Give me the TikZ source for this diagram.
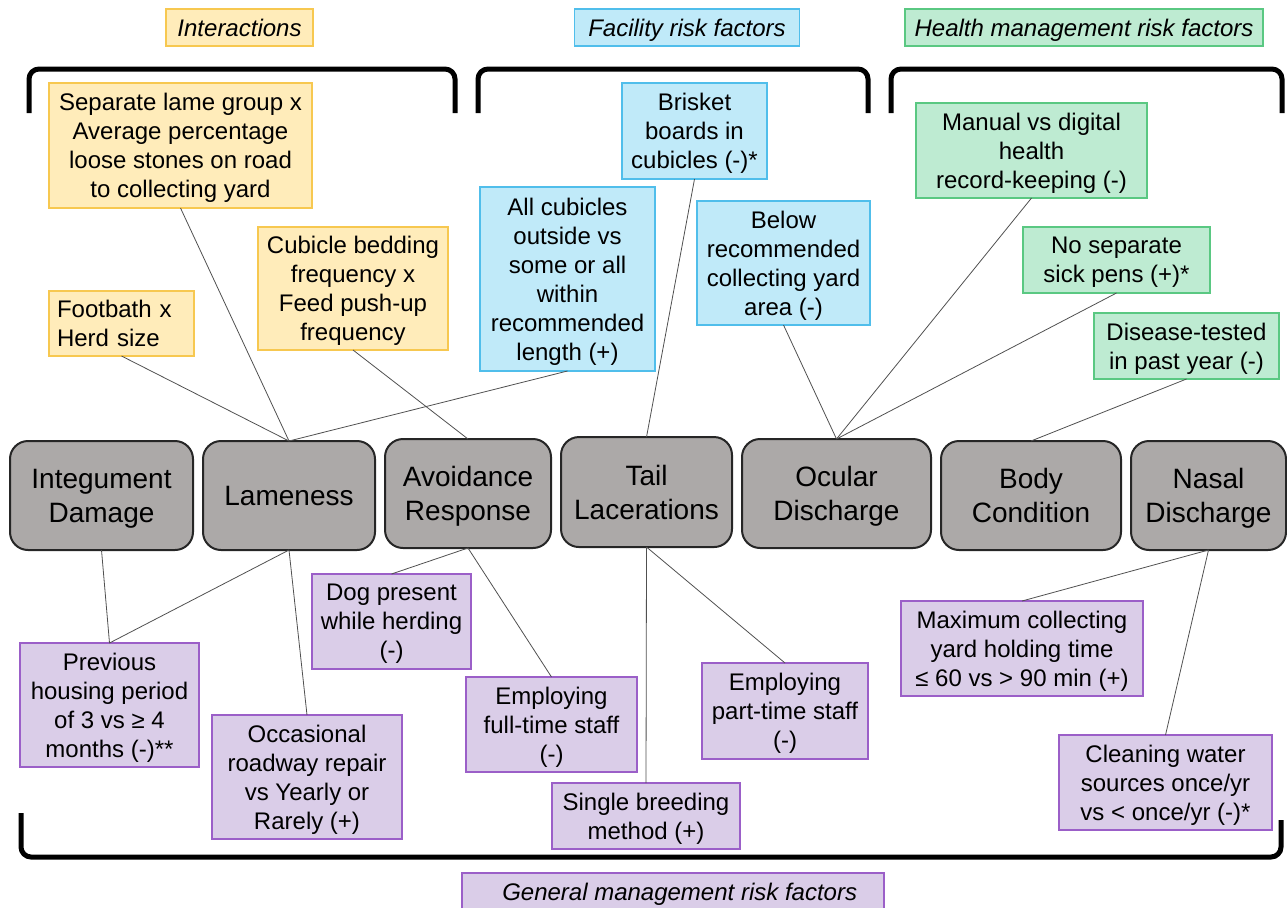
\documentclass[tikz,border=0pt]{standalone}
\usepackage{fontspec}
\setmainfont{Liberation Sans}
\usetikzlibrary{positioning}

\definecolor{outfill}{RGB}{172,169,168}
\definecolor{yelfill}{RGB}{255,236,186}
\definecolor{yelline}{RGB}{247,200,80}
\definecolor{blufill}{RGB}{192,234,249}
\definecolor{bluline}{RGB}{80,190,235}
\definecolor{grnfill}{RGB}{190,235,210}
\definecolor{grnline}{RGB}{90,200,130}
\definecolor{purfill}{RGB}{218,205,232}
\definecolor{purline}{RGB}{155,95,200}
\definecolor{linkgray}{RGB}{80,80,80}

\begin{document}
\begin{tikzpicture}[x=0.75pt, y=-0.75pt,
    boxsize/.style 2 args={minimum width=#1*0.75pt, minimum height=#2*0.75pt},
    factor/.style={rectangle, draw, line width=0.9pt, inner sep=1pt, outer sep=0pt, align=center, text depth=0pt, font=\fontsize{18}{21.75}\selectfont},
    header/.style={font=\fontsize{18}{21.75}\selectfont\itshape},
    inter/.style={factor, fill=yelfill, draw=yelline},
    facil/.style={factor, fill=blufill, draw=bluline},
    health/.style={factor, fill=grnfill, draw=grnline},
    general/.style={factor, fill=purfill, draw=purline},
    outcome/.style={rectangle, draw=black!85, fill=outfill, line width=1.5pt, rounded corners=13.5pt, align=center, outer sep=0pt, text depth=0pt, font=\fontsize{21}{25.5}\selectfont},
    link/.style={draw=linkgray, line width=0.6pt},
    bracket/.style={draw=black, line width=3.75pt, rounded corners=7.5pt}]

    \useasboundingbox (0,0) rectangle (1287,907);

    % Group headers
    \node [inter, header, boxsize={147}{37}] (hinter) at (239.5,27.5) {Interactions};
    \node [facil, header, boxsize={225}{37}] (hfacil) at (687,27.5) {Facility risk factors};
    \node [health, header, boxsize={358}{37}] (hhealth) at (1084,27.5) {Health management risk factors};
    \node [general, header, boxsize={422}{37}] (hgeneral) at (673,891.5) {\hspace*{10pt}General management risk factors};

    % Brackets
    \draw [bracket] (29,113) -- (29,69) -- (455,69) -- (455,113);
    \draw [bracket] (478,113) -- (478,69) -- (868,69) -- (868,113);
    \draw [bracket] (891,113) -- (891,69) -- (1282,69) -- (1282,113);
    \draw [bracket] (21,813) -- (21,857) -- (1281,857) -- (1281,820);

    % Outcomes
    \node [outcome, boxsize={183}{109}] (integ) at (101.5,495.5) {Integument\\Damage};
    \node [outcome, boxsize={172}{109}, right=7.5pt of integ] (lame) {Lameness};
    \node [outcome, boxsize={166}{109}, right=7.5pt of lame, yshift=1.5pt] (avoid) {Avoidance\\Response};
    \node [outcome, boxsize={171}{110}, right=7.5pt of avoid, yshift=1.1pt] (tail) {Tail\\Lacerations};
    \node [outcome, boxsize={189}{109}, right=7.5pt of tail, yshift=-1.1pt] (ocular) {Ocular\\Discharge};
    \node [outcome, boxsize={180}{109}, right=7.5pt of ocular, yshift=-1.5pt] (body) {Body\\Condition};
    \node [outcome, boxsize={155}{109}, right=7.5pt of body] (nasal) {Nasal\\Discharge};

    % Interactions
    \node [inter, boxsize={263}{125}] (lamegrp) at (180.5,145.5) {Separate lame group x\\Average percentage\\loose stones on road\\to collecting yard};
    \node [inter, boxsize={145}{65}, text width=96.75pt, inner xsep=6pt, align=left, text depth=] (footbath) at (121.5,323.5) {Footbath x\\Herd size};
    \node [inter, boxsize={190}{123}] (bedding) at (353,288.5) {Cubicle bedding\\frequency x\\Feed push-up\\frequency};

    % Facility risk factors
    \node [facil, boxsize={145}{96}] (brisket) at (694.5,131) {Brisket\\boards in\\cubicles (-)*};
    \node [facil, boxsize={175}{184}] (cublen) at (567.5,279) {All cubicles\\outside vs\\some or all\\within\\recommended\\length (+)};
    \node [facil, boxsize={173}{124}] (yardarea) at (783.5,263) {Below\\recommended\\collecting yard\\area (-)};

    % Health management risk factors
    \node [health, boxsize={231}{95}] (records) at (1031.5,150.5) {Manual vs digital\\health\\record-keeping (-)};
    \node [health, boxsize={187}{66}] (sickpen) at (1116.5,260) {No separate\\sick pens (+)*};
    \node [health, boxsize={185}{66}] (tested) at (1186.5,346) {Disease-tested\\in past year (-)};

    % General management risk factors
    \node [general, boxsize={179}{124}] (housing) at (109.5,705) {Previous\\housing period\\of 3 vs ≥ 4\\months (-)**};
    \node [general, boxsize={190}{124}] (roadway) at (307,777) {Occasional\\roadway repair\\vs Yearly or\\Rarely (+)};
    \node [general, boxsize={159}{95}] (dog) at (391.5,621.5) {Dog present\\while herding\\(-)};
    \node [general, boxsize={171}{95}] (fulltime) at (551.5,724.5) {Employing\\full-time staff\\(-)};
    \node [general, boxsize={188}{66}] (breeding) at (646,816) {Single breeding\\method (+)};
    \node [general, boxsize={166}{96}] (parttime) at (785,711) {Employing\\part-time staff\\(-)};
    \node [general, boxsize={242}{95}] (holding) at (1022,648.5) {Maximum collecting\\yard holding time\\≤ 60 vs > 90 min (+)};
    \node [general, boxsize={213}{95}] (water) at (1165.5,782.5) {Cleaning water\\sources once/yr\\vs < once/yr (-)*};

    % Links
    \path [link] (lamegrp.south) -- (lame.north);
    \path [link] (footbath.south) -- (lame.north);
    \path [link] (cublen.south) -- (lame.north);
    \path [link] (bedding.south) -- (avoid.north);
    \path [link] (brisket.south) -- (tail.north);
    \path [link] (yardarea.south) -- (ocular.north);
    \path [link] (records.south) -- (ocular.north);
    \path [link] (sickpen.south) -- (ocular.north);
    \path [link] (tested.south) -- (body.north);
    \path [link] (integ.south) -- (housing.north);
    \path [link] (lame.south) -- (housing.north);
    \path [link] (lame.south) -- (roadway.north);
    \path [link] (avoid.south) -- (dog.north);
    \path [link] (avoid.south) -- (fulltime.north);
    \path [link] (tail.south) -- (breeding.north);
    \path [link] (tail.south) -- (parttime.north);
    \path [link] (nasal.south) -- (holding.north);
    \path [link] (nasal.south) -- (water.north);

\end{tikzpicture}
\end{document}
